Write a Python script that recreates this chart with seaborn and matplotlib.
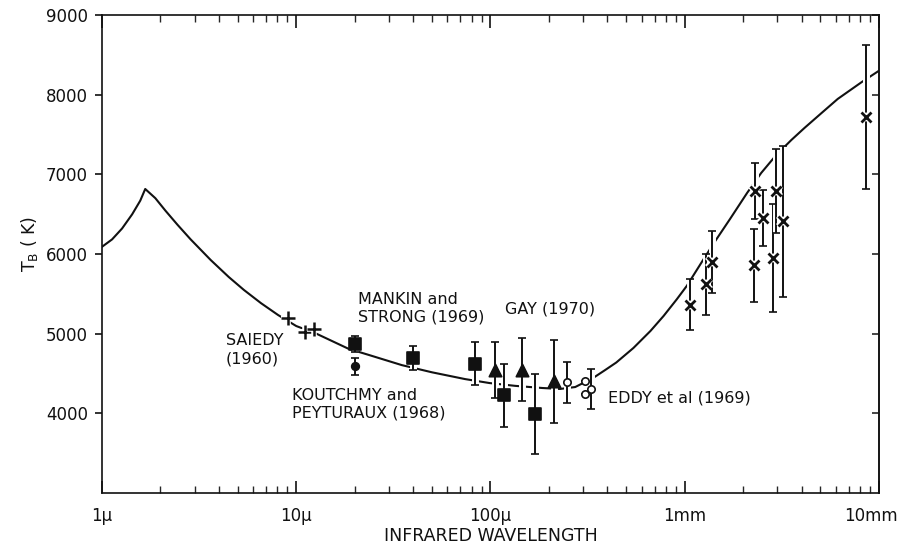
import numpy as np
import pandas as pd
import seaborn as sns
import matplotlib
matplotlib.use("Agg")
import matplotlib.pyplot as plt
import matplotlib.patheffects as pe
import matplotlib.transforms as mtransforms
from matplotlib.ticker import LogLocator, NullFormatter

# ---- model curve: brightness temperature vs wavelength (micron, K) ----
model_wl = [1.0, 1.127, 1.269, 1.43, 1.574, 1.67, 1.882, 2.12, 2.446, 2.857, 3.627,
            4.496, 5.378, 6.587, 8.067, 10.0, 12.7, 18.6, 23.5, 35, 50, 74, 99, 134,
            185, 228, 273, 337.8, 389.7, 444.4, 544.3, 666.4, 778.5, 908.8, 1024,
            1225, 1414, 1711, 2095, 2476, 2961, 3541, 4136, 5067, 6133, 8166, 10000]
model_tb = [6090, 6183, 6320, 6498, 6669, 6816, 6701, 6545, 6368, 6185, 5925,
            5711, 5549, 5383, 5234, 5096, 5000, 4810, 4735, 4605, 4515, 4430, 4380, 4345,
            4318, 4306, 4330, 4444, 4544, 4638, 4820, 5034, 5222, 5429, 5598,
            5900, 6138, 6439, 6766, 7017, 7243, 7431, 7582, 7770, 7946, 8159, 8300]

# ---- observations ----
saiedy_wl = [9.1, 11.1, 12.3]
saiedy_tb = [5200, 5020, 5060]

mankin_wl = [20, 40, 83, 118, 169]
mankin_tb = [4875, 4690, 4625, 4225, 3990]
mankin_err = [100, 150, 275, 400, 500]

koutchmy_wl = [20]
koutchmy_tb = [4590]
koutchmy_err = [110]

gay_wl = [105, 145, 212]
gay_tb = [4540, 4550, 4400]
gay_err = [350, 400, 525]

eddy_wl = [248, 307, 307, 330]
eddy_tb = [4390, 4410, 4240, 4310]
eddy_err = [260, 0, 0, 250]

mm_wl = [1062, 1285, 1380, 2278, 2306, 2535, 2858, 2963, 3220, 8570]
mm_tb = [5360, 5620, 5900, 5860, 6790, 6450, 5950, 6790, 6410, 7720]
mm_err = [320, 380, 390, 460, 350, 350, 680, 525, 950, 905]

x_ticks = [1, 10, 100, 1000, 10000]
x_ticklabels = ["1\u03bc", "10\u03bc", "100\u03bc", "1mm", "10mm"]
y_ticks = [4000, 5000, 6000, 7000, 8000, 9000]

sns.set_style("white")
plt.rcParams["font.family"] = ["DejaVu Sans"]
plt.rcParams["axes.linewidth"] = 1.2

fig = plt.figure(figsize=(9, 5.45), dpi=100)
ax = fig.add_axes([0.1133, 0.0954, 0.8633, 0.8771])

ink = "#111111"
halo = [pe.withStroke(linewidth=5, foreground="white")]

model = pd.DataFrame({"wl": model_wl, "tb": model_tb})
sns.lineplot(data=model, x="wl", y="tb", ax=ax, color=ink, lw=1.5, zorder=2,
             sort=False, estimator=None)


def draw_points(wl, tb, err, marker, size, filled=True, mew=1.2):
    cont = ax.errorbar(wl, tb, yerr=err, fmt="none", ecolor=ink, elinewidth=1.4,
                       capsize=3, capthick=1.2, zorder=3)
    for coll in cont.lines[2]:
        coll.set_path_effects(halo)
    df = pd.DataFrame({"wl": wl, "tb": tb})
    sns.scatterplot(data=df, x="wl", y="tb", ax=ax, marker=marker, s=size,
                    color=ink if filled else "white", edgecolor=ink,
                    linewidth=mew, zorder=4)


draw_points(mankin_wl, mankin_tb, mankin_err, "s", 85)
draw_points(koutchmy_wl, koutchmy_tb, koutchmy_err, "o", 30)
draw_points(gay_wl, gay_tb, gay_err, "^", 80)
draw_points(eddy_wl, eddy_tb, eddy_err, "o", 28, filled=False, mew=1.2)

# mm-wave points drawn with "x" markers
cont = ax.errorbar(mm_wl, mm_tb, yerr=mm_err, fmt="none", ecolor=ink,
                   elinewidth=1.4, capsize=3, capthick=1.2, zorder=3)
for coll in cont.lines[2]:
    coll.set_path_effects(halo)
ax.plot(mm_wl, mm_tb, linestyle="none", marker="x", ms=7, mew=2.0,
        color=ink, zorder=4,
        path_effects=[pe.withStroke(linewidth=4, foreground="white")])

# Saiedy points drawn as plus signs
ax.plot(saiedy_wl, saiedy_tb, linestyle="none", marker="+", ms=10, mew=1.8,
        color=ink, zorder=4,
        path_effects=[pe.withStroke(linewidth=4, foreground="white")])

# ---- axes ----
ax.set_xscale("log")
ax.set_xlim(1, 10000)
ax.set_ylim(3000, 9000)
ax.set_xticks(x_ticks)
ax.set_xticklabels(x_ticklabels)
ax.xaxis.set_minor_locator(LogLocator(base=10, subs=np.arange(2, 10)))
ax.xaxis.set_minor_formatter(NullFormatter())
ax.set_yticks(y_ticks)
ax.set_yticklabels([str(v) for v in y_ticks])

ax.tick_params(axis="x", which="major", direction="in", top=True, bottom=True,
               length=9, width=1.2, labelsize=12, pad=10, colors=ink)
ax.tick_params(axis="x", which="minor", direction="in", top=True, bottom=True,
               length=5, width=1.0)
ax.tick_params(axis="y", which="major", direction="out", left=True, right=False,
               length=5, width=1.2, labelsize=12, pad=5, colors=ink)

# keep the last wavelength label inside the figure
last = ax.get_xticklabels()[-1]
last.set_transform(last.get_transform() +
                   mtransforms.ScaledTranslation(-6 / 72, 0, fig.dpi_scale_trans))

right = ax.secondary_yaxis("right")
right.set_yticks(y_ticks)
right.tick_params(axis="y", direction="in", length=5, width=1.2, labelright=False)
right.spines["right"].set_linewidth(1.2)

for s in ax.spines.values():
    s.set_color(ink)
    s.set_linewidth(1.2)

ax.set_xlabel("INFRARED WAVELENGTH", fontsize=12.5, color=ink)
ax.xaxis.set_label_coords(0.5, -0.072)
ax.set_ylabel(r"T$_{\mathrm{B}}$ ( K)", fontsize=12.5, color=ink)
ax.yaxis.set_label_coords(-0.08, 0.52)

# ---- source labels ----
lab = dict(fontsize=11.5, color=ink, ha="left", va="center")
ax.text(4.34, 4908, "SAIEDY", **lab)
ax.text(4.34, 4682, "(1960)", **lab)
ax.text(20.9, 5435, "MANKIN and", **lab)
ax.text(20.9, 5209, "STRONG (1969)", **lab)
ax.text(9.53, 4230, "KOUTCHMY and", **lab)
ax.text(9.53, 4004, "PEYTURAUX (1968)", **lab)
ax.text(119, 5310, "GAY (1970)", **lab)
ax.text(404, 4193, "EDDY et al (1969)", **lab)

fig.savefig("out.png", dpi=100, facecolor="white")
